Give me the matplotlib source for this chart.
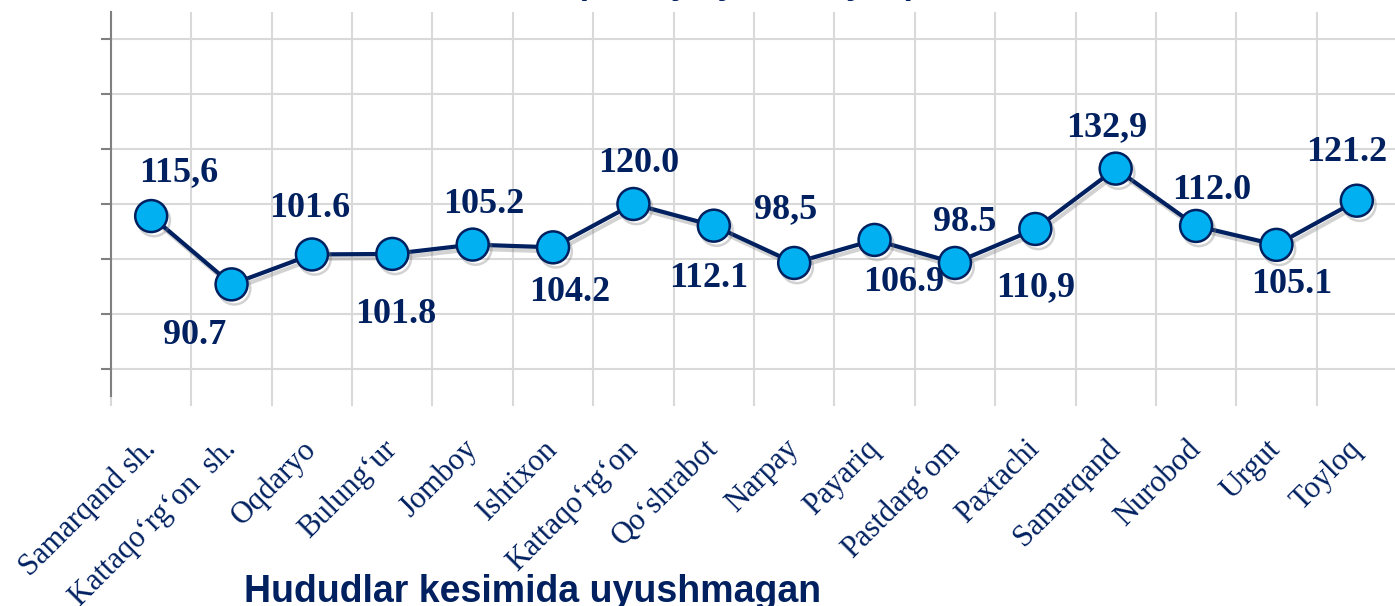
import numpy as np
import matplotlib
matplotlib.use("Agg")
import matplotlib.pyplot as plt
import matplotlib.patheffects as pe
from matplotlib.ticker import MultipleLocator, FixedLocator, NullFormatter

# ==================
# data
# ==================
districts = ["Samarqand sh.", "Kattaqo‘rg‘on  sh.", "Oqdaryo", "Bulung‘ur",
             "Jomboy", "Ishtixon", "Kattaqo‘rg‘on", "Qo‘shrabot", "Narpay",
             "Payariq", "Pastdarg‘om", "Paxtachi", "Samarqand", "Nurobod",
             "Urgut", "Toyloq"]
values = [115.6, 90.7, 101.6, 101.8, 105.2, 104.2, 120.0, 112.1, 98.5,
          106.9, 98.5, 110.9, 132.9, 112.0, 105.1, 121.2]
value_text = ["115,6", "90.7", "101.6", "101.8", "105.2", "104.2", "120.0",
              "112.1", "98,5", "106.9", "98.5", "110,9", "132,9", "112.0",
              "105.1", "121.2"]

# label offsets from the marker, in pixels (placement only)
label_dx = [27, -37, -2, 3, 11, 17, 5, -5, -9, 29, 10, 0, -9, 16, 15, -10]
label_dy = [43, -51, 46, -61, 40, -45, 40, -53, 53, -43, 40, -59, 41, 35, -40, 48]

navy = "#002060"
cyan = "#00B0F0"
grid_c = "#D9D9D9"

plt.rcParams["font.family"] = ["Liberation Serif", "DejaVu Serif"]

fig = plt.figure(figsize=(13.95, 6.06), dpi=100)
ax = fig.add_axes([111 / 1395, 210 / 606, 1286 / 1395, 384 / 606])

x = np.arange(len(districts))
ax.plot(x, values, color=navy, lw=3.0, marker="o", ms=23,
        mfc=cyan, mec=navy, mew=1.8, zorder=3,
        path_effects=[pe.SimpleLineShadow(offset=(2, -3), shadow_color="#7f7f7f",
                                          alpha=0.35), pe.Normal()])

for xi, v, t, dx, dy in zip(x, values, value_text, label_dx, label_dy):
    ax.annotate(t, (xi, v), xytext=(dx, dy), textcoords="offset pixels",
                ha="center", va="center", fontsize=26, fontweight="bold",
                color=navy, zorder=4)

ax.set_xlim(-0.5, len(districts) - 0.5)
ax.set_ylim(50, 190)
ax.yaxis.set_major_locator(MultipleLocator(20))
ax.yaxis.set_major_formatter(NullFormatter())
ax.yaxis.grid(True, color=grid_c, lw=1.5)

# vertical grid at category boundaries
ax.xaxis.set_minor_locator(FixedLocator(np.arange(-0.5, len(districts), 1.0)))
ax.xaxis.grid(True, which="minor", color=grid_c, lw=1.5)
ax.tick_params(axis="x", which="minor", length=7, width=1.5, color=grid_c)
ax.tick_params(axis="x", which="major", length=0, pad=35)
ax.tick_params(axis="y", length=7, width=1.5, color="#808080")
ax.set_xticks(x)
ax.set_xticklabels(districts, rotation=45, ha="right", rotation_mode="anchor",
                   fontsize=22, color=navy)
for lbl in ax.get_xticklabels():
    lbl.set_va("center")

for s in ["top", "right", "bottom"]:
    ax.spines[s].set_visible(False)
ax.spines["left"].set_color("#808080")
ax.spines["left"].set_linewidth(1.5)
ax.set_axisbelow(True)

# titles (cut off by the figure edges in the original)
fig.text(0.535, 1 + 6 / 606, "(2025 yil yanvar-iyun)", ha="center", va="baseline",
         fontsize=24, fontweight="bold", color=navy, family="Liberation Sans")
fig.text(244 / 1395, 4 / 606, "Hududlar kesimida uyushmagan", ha="left",
         va="baseline", fontsize=27, fontweight="bold", color=navy,
         family="Liberation Sans")

fig.savefig("out.png", dpi=100)
